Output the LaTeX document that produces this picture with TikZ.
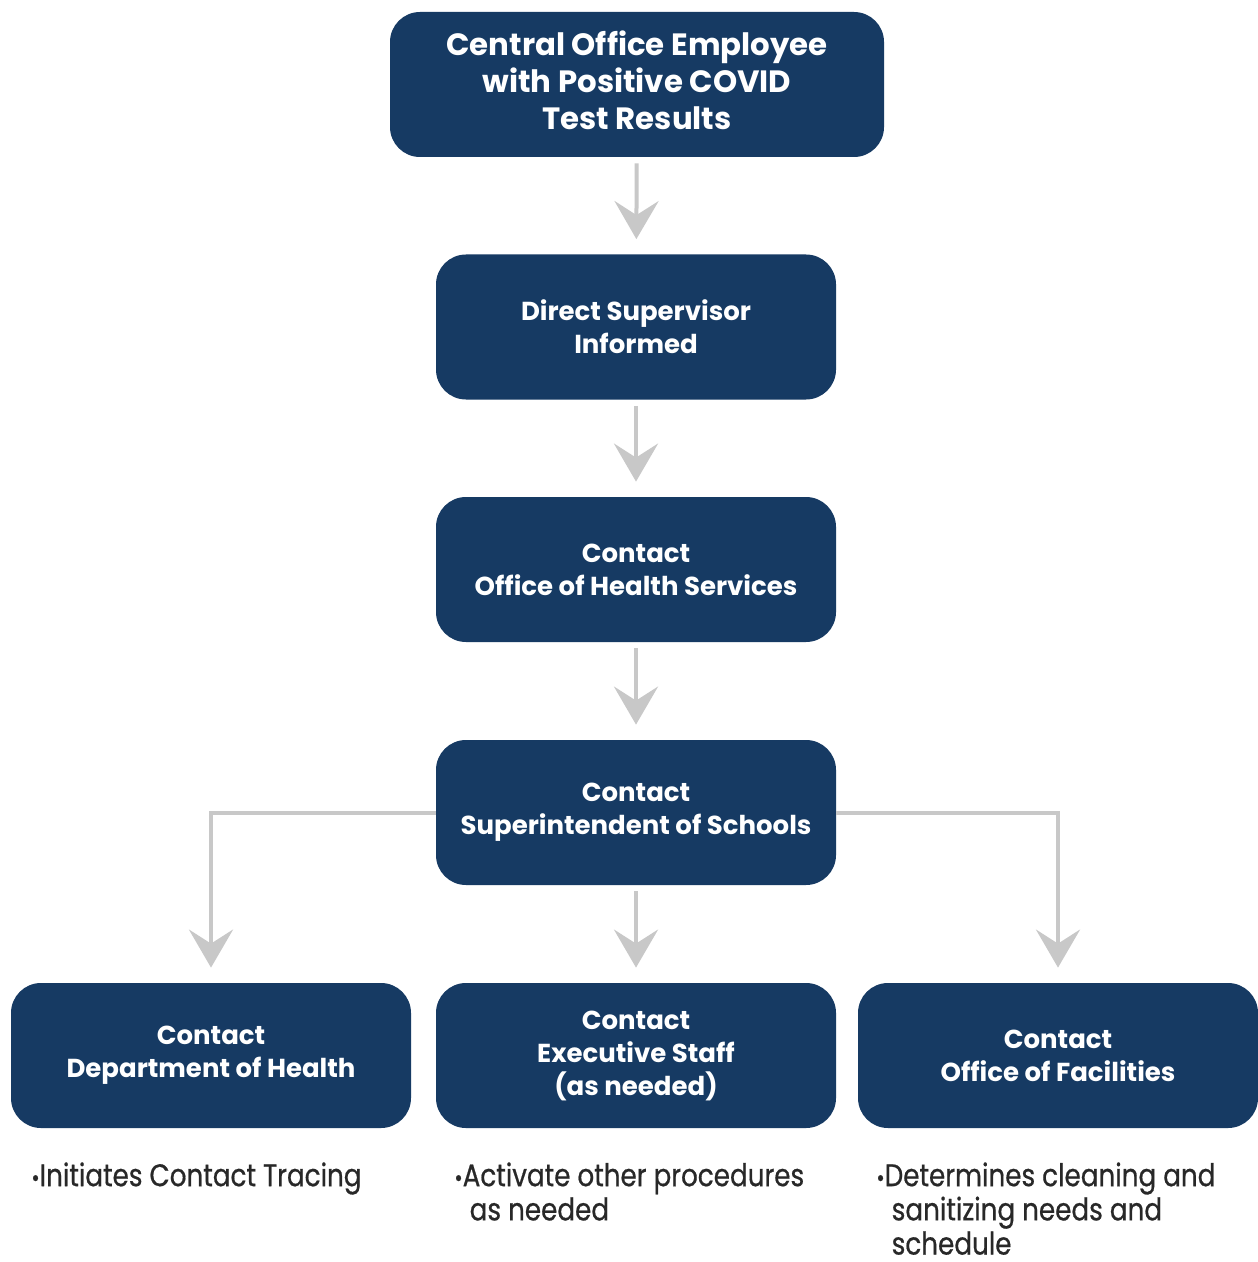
\documentclass[tikz,border=0pt]{standalone}
\usepackage{fontspec}
\usetikzlibrary{arrows.meta}
\setmainfont{Poppins}
\newfontfamily\notefont{Poppins}[FakeStretch=0.84,FakeBold=0.6]
\definecolor{navy}{RGB}{22,58,99}
\definecolor{arrgray}{RGB}{200,200,200}
\definecolor{notegray}{RGB}{40,40,40}
\newcommand{\nbul}{{\fontsize{12}{12}\selectfont\textbullet}}
\begin{document}
\begin{tikzpicture}[x=0.5pt,y=-0.5pt,
  box/.style={rounded corners=15pt, fill=navy, text=white, align=center,
    minimum width=200pt, minimum height=72.5pt, inner sep=0pt,
    font=\fontsize{13.0}{16.5}\selectfont\bfseries},
  bigbox/.style={box, minimum width=247pt},
  bigtext/.style={text=white, align=center, inner sep=0pt,
    font=\fontsize{15.4}{18.5}\selectfont\bfseries},
  arr/.style={draw=arrgray, line width=2pt, shorten >=7.5pt, shorten <=3pt,
    -{Stealth[width=22pt,length=19pt,inset=7pt,fill=arrgray]}},
  note/.style={anchor=north west, align=left, inner sep=0pt, text=notegray,
    font=\notefont\fontsize{15.6}{17.1}\selectfont}]
\useasboundingbox[fill=white] (0,0) rectangle (1257,1262);
\node[bigbox] (b1) at (637,84.5) {};
\node[bigtext] (b1t) at ([yshift=2.2pt]b1.center) {Central Office Employee\\with Positive COVID\\Test Results};
\node[box] (b2) at (636,327) {Direct Supervisor\\Informed};
\node[box] (b3) at (636,569.5) {Contact\\Office of Health Services};
\node[box] (b4) at (636,812.5) {Contact\\Superintendent of Schools};
\node[box] (b5) at (211,1055.5) {Contact\\Department of Health};
\node[box] (b6) at (636,1055.5) {Contact\\Executive Staff\\(as needed)};
\node[box] (b7) at (1058,1055.5) {Contact\\Office of Facilities};
\draw[arr] (b1) -- (b2);
\draw[arr] (b2) -- (b3);
\draw[arr] (b3) -- (b4);
\draw[arr] (b4) -- (b6);
\draw[arr, shorten <=0pt] (b4.west) -| (b5.north);
\draw[arr, shorten <=0pt] (b4.east) -| (b7.north);
\node[note] (n1) at (31,1162) {\nbul Initiates Contact Tracing};
\node[note] (n2) at (454,1162) {\nbul Activate other procedures\\\hphantom{\nbul\ }as needed};
\node[note] (n3) at (876,1162) {\nbul Determines cleaning and\\\hphantom{\nbul\ }sanitizing needs and\\\hphantom{\nbul\ }schedule};
\end{tikzpicture}
\end{document}
